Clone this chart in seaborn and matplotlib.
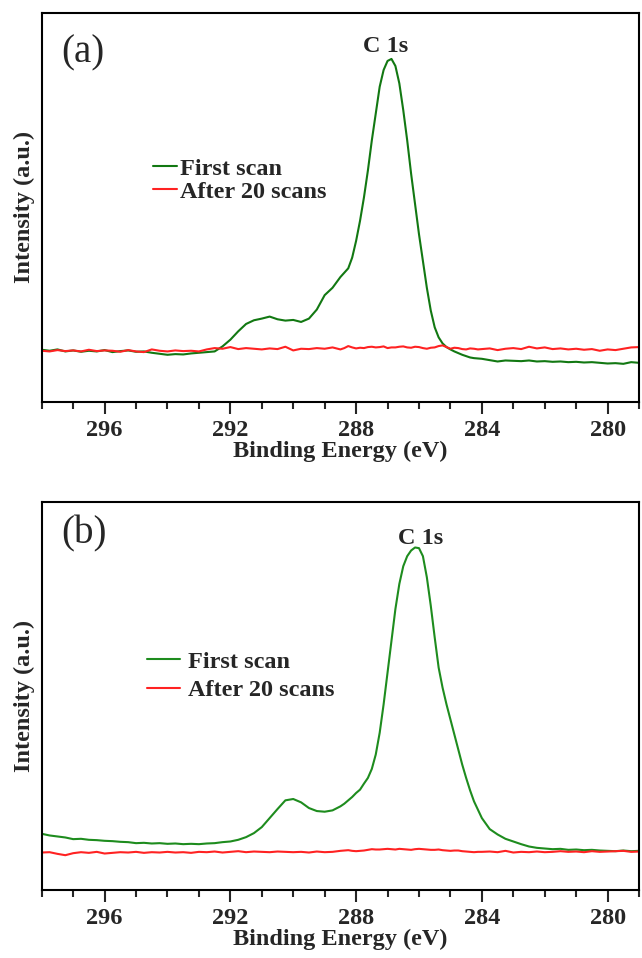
import numpy as np
import pandas as pd
import matplotlib
matplotlib.use("Agg")
import matplotlib.pyplot as plt
import seaborn as sns
from matplotlib.lines import Line2D
from matplotlib.ticker import MultipleLocator

# Binding energy grid (eV): 0.25 eV steps, 0.125 eV steps across the C 1s peak
energy = [298.0, 297.75, 297.5, 297.25, 297.0, 296.75, 296.5, 296.25, 296.0, 295.75,
          295.5, 295.25, 295.0, 294.75, 294.5, 294.25, 294.0, 293.75, 293.5, 293.25,
          293.0, 292.75, 292.5, 292.25, 292.0, 291.75, 291.5, 291.25, 291.0, 290.75,
          290.5, 290.25, 290.0, 289.75, 289.5, 289.25, 289.0, 288.75,
          288.5, 288.375, 288.25, 288.125, 288.0, 287.875, 287.75, 287.625, 287.5, 287.375,
          287.25, 287.125, 287.0, 286.875, 286.75, 286.625, 286.5, 286.375, 286.25, 286.125,
          286.0, 285.875, 285.75, 285.625, 285.5, 285.375, 285.25, 285.125, 285.0, 284.875,
          284.75, 284.625, 284.5, 284.375, 284.25, 284.125, 284.0,
          283.75, 283.5, 283.25, 283.0, 282.75, 282.5, 282.25, 282.0, 281.75, 281.5,
          281.25, 281.0, 280.75, 280.5, 280.25, 280.0, 279.75, 279.5, 279.25, 279.0]

# Panel (a)
a_first = [155, 152, 156, 150, 153, 149, 152, 150, 154, 148,
           151, 153, 149, 150, 146, 143, 140, 142, 141, 144,
           146, 148, 150, 165, 185, 210, 232, 243, 248, 254,
           246, 242, 244, 238, 248, 275, 318, 340,
           372, 385, 398, 430, 480, 540, 610, 690, 780, 860,
           940, 990, 1017, 1023, 1002, 950, 870, 780, 680, 590,
           500, 420, 340, 272, 222, 192, 174, 163, 156, 150,
           145, 140, 136, 132, 130, 129, 128,
           124, 120, 123, 122, 121, 123, 120, 121, 119, 120,
           118, 119, 117, 118, 116, 114, 115, 113, 118, 116]
a_after = [152, 150, 154, 151, 153, 150, 155, 151, 153, 152,
           149, 154, 150, 148, 156, 152, 150, 153, 151, 152,
           150, 156, 160, 158, 163, 157, 160, 158, 156, 159,
           157, 164, 153, 158, 157, 160, 158, 162,
           156, 160, 166, 162, 159, 161, 160, 163, 164, 162,
           163, 165, 160, 162, 162, 164, 165, 162, 161, 164,
           163, 160, 158, 161, 162, 166, 168, 163, 158, 161,
           160, 157, 156, 159, 158, 156, 157,
           159, 154, 158, 160, 157, 164, 159, 162, 157, 159,
           156, 158, 155, 157, 152, 156, 154, 158, 162, 163]

# Panel (b)
b_first = [168, 163, 160, 157, 152, 153, 150, 149, 147, 146,
           144, 143, 140, 141, 139, 140, 138, 139, 137, 138,
           137, 139, 140, 143, 145, 150, 158, 170, 188, 215,
           242, 268, 272, 262, 245, 236, 234, 238,
           250, 258, 268, 278, 290, 300, 318, 335, 362, 405,
           470, 555, 650, 745, 840, 915, 968, 998, 1015, 1024,
           1022, 998, 935, 850, 755, 665, 605, 555, 510, 465,
           420, 375, 335, 298, 265, 240, 215,
           182, 166, 153, 145, 137, 130, 126, 124, 122, 123,
           120, 121, 119, 120, 118, 117, 116, 118, 116, 117]
b_after = [112, 113, 108, 104, 110, 113, 111, 114, 109, 111,
           113, 112, 114, 111, 113, 112, 114, 112, 113, 111,
           114, 113, 115, 112, 114, 116, 113, 115, 114, 113,
           115, 114, 113, 114, 112, 115, 113, 114,
           117, 118, 119, 117, 116, 117, 118, 120, 122, 121,
           121, 122, 123, 122, 121, 123, 122, 121, 120, 122,
           123, 122, 121, 120, 120, 121, 119, 118, 117, 118,
           118, 116, 115, 114, 113, 114, 114,
           115, 113, 117, 112, 114, 113, 115, 113, 114, 116,
           114, 115, 113, 116, 114, 115, 116, 117, 114, 115]

series_labels = ["First scan", "After 20 scans"]
panel_tags = ["(a)", "(b)"]
peak_label = "C 1s"
xticks = [296, 292, 288, 284, 280]

sns.set_style("ticks")
plt.rcParams["font.family"] = ["Liberation Serif", "DejaVu Serif"]
plt.rcParams["font.weight"] = "bold"

FS = 17.5
RED = "#ff2222"

fig = plt.figure(figsize=(6.42, 9.58), dpi=100)
ax_a = fig.add_axes([0.065, 0.5807, 0.9304, 0.4057])
ax_b = fig.add_axes([0.065, 0.0710, 0.9304, 0.4050])

panels = [
    # ax, first, after, green, tag, tag_y, C1s x, C1s y, legend x, legend y, handlelen, textpad, labelspacing
    (ax_a, a_first, a_after, "#127812", panel_tags[0], 0.897, 287.06, 1043, 0.186, 0.628, 0.98, 0.12, 0.05),
    (ax_b, b_first, b_after, "#1e8c1e", panel_tags[1], 0.917, 285.94, 1034, 0.177, 0.617, 1.35, 0.31, 0.28),
]

for ax, first, after, gcol, tag, tag_y, cx, cy, lx, ly, hl, htp, lsp in panels:
    df = pd.DataFrame({
        "energy": energy * 2,
        "intensity": first + after,
        "scan": [series_labels[0]] * len(energy) + [series_labels[1]] * len(energy),
    })
    pal = {series_labels[0]: gcol, series_labels[1]: RED}
    sns.lineplot(data=df, x="energy", y="intensity", hue="scan", palette=pal,
                 estimator=None, sort=False, linewidth=1.5, ax=ax, legend=False)
    ax.set_xlim(298, 279)
    ax.set_ylim(0, 1160)
    ax.set_yticks([])
    ax.set_xticks(xticks)
    ax.xaxis.set_minor_locator(MultipleLocator(1))
    ax.tick_params(axis="x", which="major", direction="out", length=8.6, width=1.5,
                   labelsize=FS, pad=4.5)
    ax.tick_params(axis="x", which="minor", direction="out", length=5, width=1.5)
    for lab in ax.get_xticklabels():
        lab.set_fontweight("bold")
    for sp in ax.spines.values():
        sp.set_visible(True)
        sp.set_linewidth(1.5)
        sp.set_color("black")
    ax.set_xlabel("Binding Energy (eV)", fontsize=FS, fontweight="bold", labelpad=0)
    ax.set_ylabel("Intensity (a.u.)", fontsize=FS, fontweight="bold", labelpad=5)
    ax.text(0.0335, tag_y, tag, transform=ax.transAxes, fontsize=28,
            fontweight="normal", ha="left", va="center")
    ax.text(cx, cy, peak_label, fontsize=FS, fontweight="bold",
            ha="center", va="baseline")
    handles = [Line2D([], [], color=gcol, lw=1.5),
               Line2D([], [], color=RED, lw=1.5)]
    ax.legend(handles, series_labels, loc="upper left", bbox_to_anchor=(lx, ly),
              frameon=False, handlelength=hl, handletextpad=htp,
              borderpad=0, borderaxespad=0, labelspacing=lsp,
              prop={"weight": "bold", "size": FS})

fig.savefig("out.png", dpi=100)
